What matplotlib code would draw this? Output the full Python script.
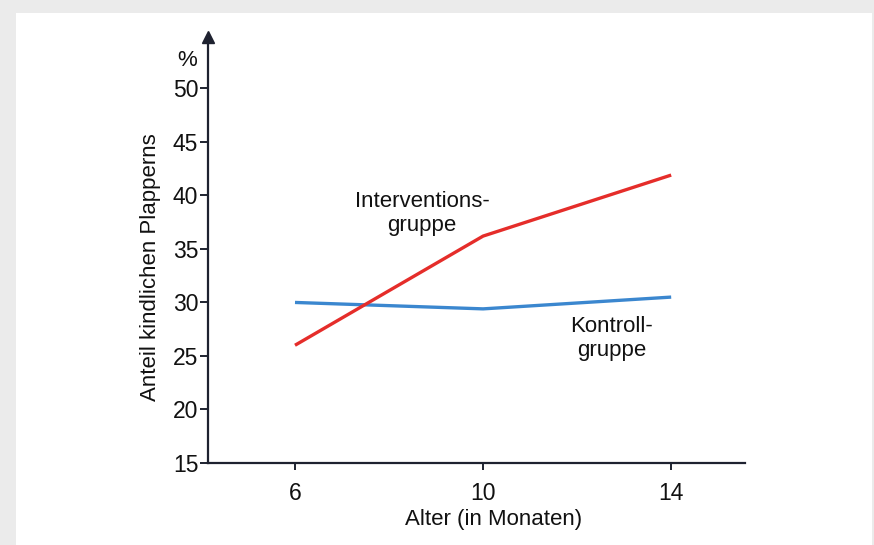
import matplotlib.pyplot as plt
from matplotlib.patches import Rectangle

plt.rcParams['font.family'] = ['Liberation Sans', 'DejaVu Sans']

# Daten
alter = [6, 10, 14]
intervention = [26.0, 36.2, 41.9]
kontrolle = [30.0, 29.4, 30.5]
y_ticks = [15, 20, 25, 30, 35, 40, 45, 50]

axis_col = '#1e2230'
txt_col = '#111111'

fig = plt.figure(figsize=(8.74, 5.45), dpi=100)
fig.patch.set_facecolor('#ebebeb')
# weisse Flaeche innerhalb des grauen Rahmens
fig.patches.append(Rectangle((16 / 874, 0), (872 - 16) / 874, (545 - 13) / 545,
                             transform=fig.transFigure, facecolor='white',
                             edgecolor='none', zorder=-10))

ax = fig.add_axes([208 / 874, 82 / 545, 537 / 874, 426 / 545])
ax.set_facecolor('none')

ax.plot(alter, kontrolle, color='#3b87cf', linewidth=2.4, solid_capstyle='butt')
ax.plot(alter, intervention, color='#e52d2a', linewidth=2.4, solid_capstyle='butt')

ax.set_xlim(4.15, 15.57)
ax.set_ylim(15, 54.8)

ax.spines['top'].set_visible(False)
ax.spines['right'].set_visible(False)
for s in ['left', 'bottom']:
    ax.spines[s].set_color(axis_col)
    ax.spines[s].set_linewidth(1.6)

# Pfeilspitze an der y-Achse
ax.plot(0, 1, marker='^', color=axis_col, markersize=9, transform=ax.transAxes,
        clip_on=False)

ax.set_yticks(y_ticks)
ax.set_xticks(alter)
ax.tick_params(axis='y', length=6, width=1.4, color=axis_col, pad=1,
               labelsize=16.5, labelcolor=txt_col)
ax.tick_params(axis='x', length=5, width=1.4, color=axis_col, pad=9,
               labelsize=16.5, labelcolor=txt_col)

ax.text(-0.039, 0.944, '%', transform=ax.transAxes, ha='center', va='center',
        fontsize=16, color=txt_col)
ax.text(-0.108, 0.46, 'Anteil kindlichen Plapperns', transform=ax.transAxes,
        rotation=90, ha='center', va='center', fontsize=16, color=txt_col)
ax.text(0.531, -0.108, 'Alter (in Monaten)', transform=ax.transAxes,
        ha='center', va='top', fontsize=16, color=txt_col)

ax.text(8.70, 40.4, 'Interventions-\ngruppe', ha='center', va='top',
        fontsize=16, color=txt_col, linespacing=1.15)
ax.text(12.74, 28.7, 'Kontroll-\ngruppe', ha='center', va='top',
        fontsize=16, color=txt_col, linespacing=1.15)

fig.savefig('out.png', dpi=100, facecolor=fig.get_facecolor())
